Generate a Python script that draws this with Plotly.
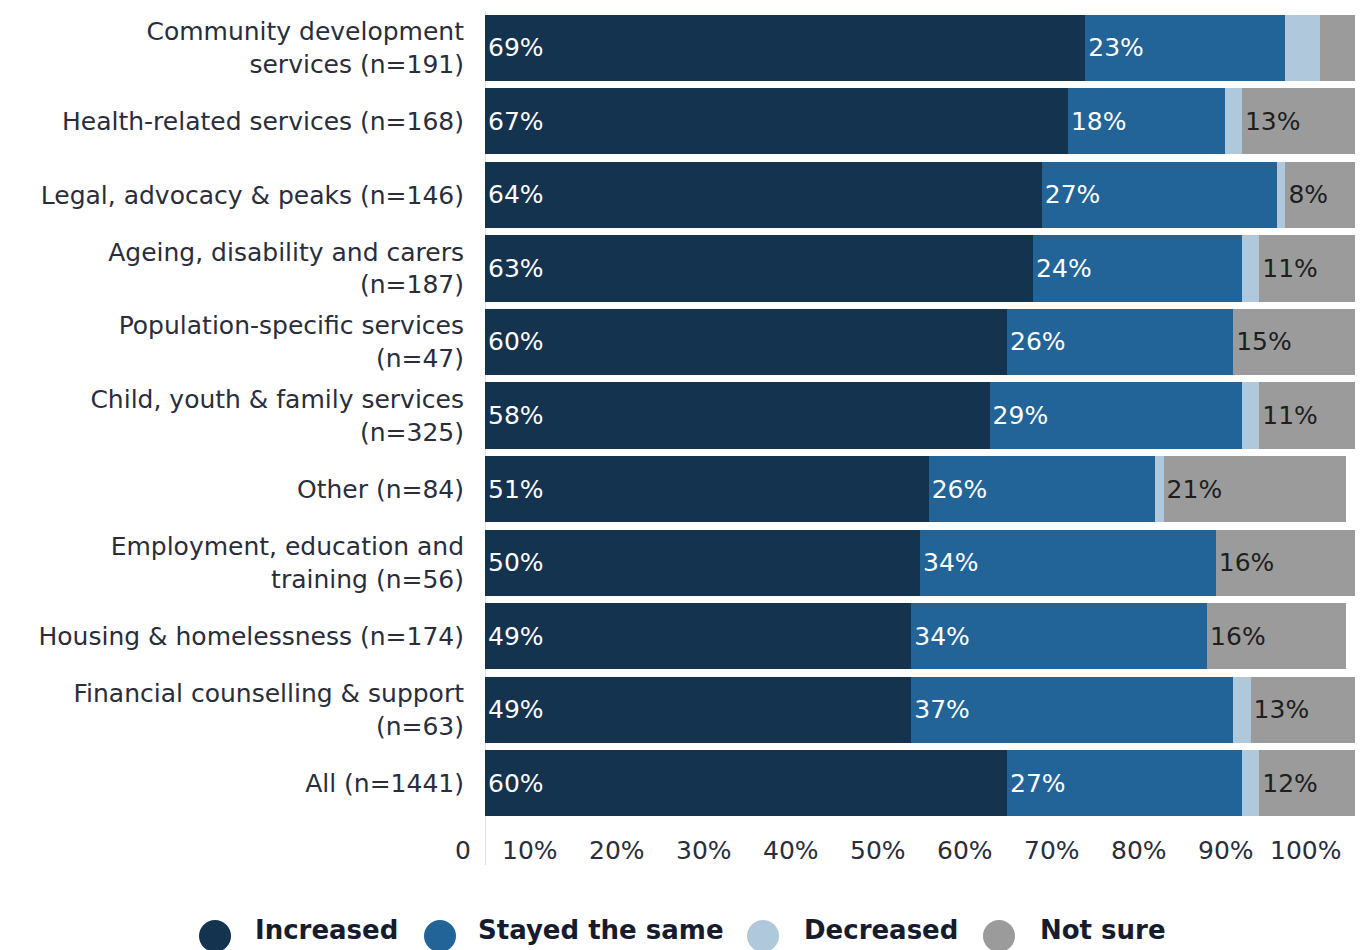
import plotly.graph_objects as go

# Service categories (top to bottom) and share of responses per outcome (%)
categories = [
    "Community development<br>services (n=191)",
    "Health-related services (n=168)",
    "Legal, advocacy & peaks (n=146)",
    "Ageing, disability and carers<br>(n=187)",
    "Population-specific services<br>(n=47)",
    "Child, youth & family services<br>(n=325)",
    "Other (n=84)",
    "Employment, education and<br>training (n=56)",
    "Housing & homelessness (n=174)",
    "Financial counselling & support<br>(n=63)",
    "All (n=1441)",
]
increased = [69, 67, 64, 63, 60, 58, 51, 50, 49, 49, 60]
stayed_same = [23, 18, 27, 24, 26, 29, 26, 34, 34, 37, 27]
decreased = [4, 2, 1, 2, 0, 2, 1, 0, 0, 2, 2]
not_sure = [4, 13, 8, 11, 15, 11, 21, 16, 16, 13, 12]

# Which segments carry a printed value
show_increased = [True] * 11
show_stayed = [True] * 11
show_decreased = [False] * 11
show_not_sure = [False] + [True] * 10

series_names = ["Increased", "Stayed the same", "Decreased", "Not sure"]
series_values = [increased, stayed_same, decreased, not_sure]
series_show = [show_increased, show_stayed, show_decreased, show_not_sure]
series_colors = ["#14334f", "#226498", "#b0c8dc", "#9b9b9b"]
text_colors = ["#ffffff", "#ffffff", "#1e1e1e", "#1e1e1e"]

x_tick_values = [0, 10, 20, 30, 40, 50, 60, 70, 80, 90, 100]
x_tick_labels = ["0", "10%", "20%", "30%", "40%", "50%", "60%", "70%", "80%", "90%", "100%"]

FONT = "DejaVu Sans, Open Sans, sans-serif"
W, H = 1360, 950
ML, MR, MT, MB = 485, 5, 11, 130
PW, PH = W - ML - MR, H - MT - MB

fig = go.Figure()
for name, vals, show, col, tcol in zip(series_names, series_values, series_show,
                                       series_colors, text_colors):
    fig.add_trace(go.Bar(
        y=categories,
        x=vals,
        orientation="h",
        name=name,
        marker=dict(color=col, line=dict(width=0)),
        text=[f"{v}%" if s else "" for v, s in zip(vals, show)],
        textposition="inside",
        insidetextanchor="start",
        textfont=dict(family=FONT, size=25, color=tcol),
        hoverinfo="skip",
        showlegend=False,
    ))

annotations = []
# percentage labels along the bottom, right-aligned just left of each gridpoint
for v, lab in zip(x_tick_values, x_tick_labels):
    annotations.append(dict(
        x=v, y=0, xref="x", yref="paper",
        text=lab, showarrow=False, xanchor="right", yanchor="middle",
        xshift=-12, yshift=-30,
        font=dict(family=FONT, size=25, color="#2a2d3a"),
    ))

shapes = [
    # vertical baseline at 0, running down past the percentage labels
    dict(type="line", xref="x", yref="paper", x0=0, x1=0,
         y0=-(865 - (H - MB)) / PH, y1=1.0,
         line=dict(color="#c9c9c9", width=1.2), layer="below"),
]

# custom legend with large round swatches
legend_circle_px = [215, 440, 763, 999]
legend_text_px = [253, 476, 802, 1038]
legend_y = (H - MB - 936) / PH
for name, col, cx, tx in zip(series_names, series_colors, legend_circle_px, legend_text_px):
    shapes.append(dict(
        type="circle", xref="paper", yref="paper",
        xsizemode="pixel", ysizemode="pixel",
        xanchor=(cx - ML) / PW, yanchor=legend_y,
        x0=-16, x1=16, y0=-16, y1=16,
        fillcolor=col, line=dict(width=0),
    ))
    annotations.append(dict(
        x=(tx - ML) / PW, y=(H - MB - 930) / PH, xref="paper", yref="paper",
        text=f"<b>{name}</b>", showarrow=False, xanchor="left", yanchor="middle",
        font=dict(family=FONT, size=26, color="#161b2e"),
    ))

fig.update_layout(
    width=W, height=H,
    margin=dict(l=ML, r=MR, t=MT, b=MB),
    barmode="stack",
    bargap=0.1,
    plot_bgcolor="white",
    paper_bgcolor="white",
    showlegend=False,
    annotations=annotations,
    shapes=shapes,
    xaxis=dict(range=[0, 100], showgrid=False, zeroline=False,
               showticklabels=False, showline=False, fixedrange=True),
    yaxis=dict(autorange="reversed", showgrid=False, zeroline=False, showline=False,
               ticks="", ticklabelstandoff=20,
               tickfont=dict(family=FONT, size=25, color="#2a2d3a")),
)

fig.write_html("out.html")
